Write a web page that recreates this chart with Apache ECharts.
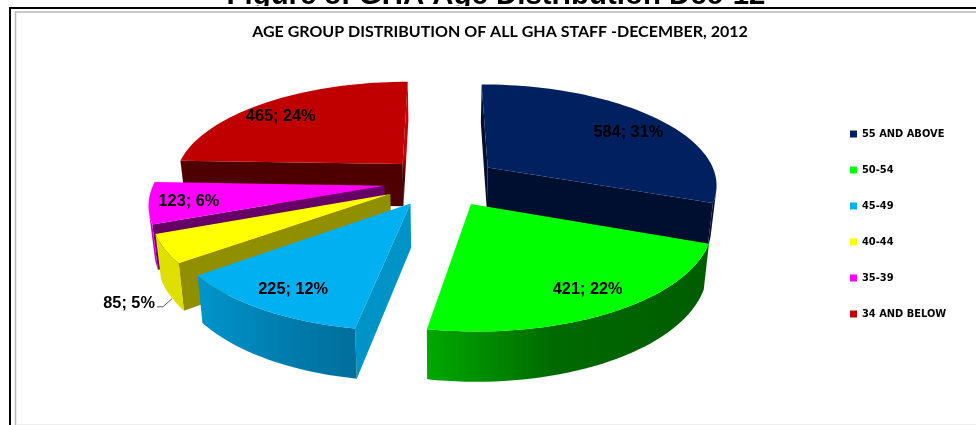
<!DOCTYPE html>
<html><head><meta charset="utf-8">
<style>html,body{margin:0;padding:0;background:#fff}#c{width:976px;height:425px}</style>
<script src="https://cdn.jsdelivr.net/npm/echarts@6/dist/echarts.min.js"></script>
</head><body><div id="c"></div>
<script>
const categories = ['55 AND ABOVE','50-54','45-49','40-44','35-39','34 AND BELOW'];
const staff = [584,421,225,85,123,465];
const percentLabels = [31,22,12,5,6,24];
const topColors = ['#002060','#00ff00','#00b0f0','#ffff00','#ff00ff','#c00000'];
const pageTitle = 'Figure 8: GHA Age Distribution Dec-12';
const chartTitle = 'AGE GROUP DISTRIBUTION OF ALL GHA STAFF -DECEMBER, 2012';

// projection of the exploded 3D disk
const P = {cx:441.5, cy:181.5, A:230, B:100, k:0.155, e:0.25, h:44, m:0.02};
const total = staff.reduce((a,b)=>a+b,0);
const rad = d=>d*Math.PI/180;
let acc = 0;
const spans = staff.map(v=>{const s=acc/total*360; acc+=v; return [s,acc/total*360];});

function proj(X,Y,bottom){
  const w = (1+P.k*Y)*(bottom?1+P.m:1);
  const y0 = -P.B*Y + (bottom?P.h:0);
  return [P.cx+P.A*X/w, P.cy+y0/w];
}
function disk(i,r,deg){
  const mid = rad((spans[i][0]+spans[i][1])/2);
  return [P.e*Math.sin(mid)+r*Math.sin(rad(deg)), P.e*Math.cos(mid)+r*Math.cos(rad(deg))];
}
const area = pts=>{let s=0;pts.forEach((p,j)=>{const q=pts[(j+1)%pts.length];s+=p[0]*q[1]-q[0]*p[1];});return s/2;};

// side shading per slice: cut-face at the start angle, cut-face at the end angle, outer wall
const grad = stops=>({type:'linear',x:0,y:0,x2:1,y2:0,colorStops:stops.map(c=>({offset:c[0],color:c[1]}))});
const vgrad = stops=>({type:'linear',x:0,y:0,x2:0,y2:1,colorStops:stops.map(c=>({offset:c[0],color:c[1]}))});
const sides = [
 {start:'#000f30', end:'#000f30', wall:'#000f30'},
 {start:'#006000', end:'#00a000', wall:grad([[0,'#00a800'],[0.45,'#006a00'],[1,'#005c00']])},
 {start:'#0093c8', end:'#0093c8', wall:grad([[0,'#0095cc'],[0.55,'#007cad'],[1,'#006f9b'] ])},
 {start:'#8f8f00', end:'#8f8f00', wall:'#e0e000'},
 {start:'#660066', end:'#660066', wall:'#cc00cc'},
 {start:'#4e0000', end:vgrad([[0,'#d40000'],[0.62,'#c00000'],[0.72,'#500000'],[1,'#400000']]), wall:'#800000'}
];
const paintOrder = [5,0,4,3,2,1];
const labelNudge = [[18,2],[19,11],[-15,13],[0,0],[-27,3],[-21,-2]];

function sliceItem(i){
  const [a0,a1] = spans[i];
  const apex = disk(i,0,0);
  const n = Math.max(8,Math.round((a1-a0)/2));
  const arc = [];
  for(let j=0;j<=n;j++){ arc.push(disk(i,1,a0+(a1-a0)*j/n)); }
  const children = [];
  const poly = (pts,fill,z2)=>children.push({type:'polygon',shape:{points:pts},style:{fill:fill,stroke:null},z2:z2,silent:true});
  const faces = [[apex,arc[0],sides[i].start],[arc[n],apex,sides[i].end]];
  // a flat face is shown only if it turns towards the viewer
  faces.forEach(f=>{
    const q=[proj(f[0][0],f[0][1]),proj(f[1][0],f[1][1]),proj(f[1][0],f[1][1],true),proj(f[0][0],f[0][1],true)];
    if(area(q)<0) poly(q,f[2],2);
  });
  // outer wall, only the segments that look at the viewer
  const vis=[];
  for(let j=0;j<n;j++){
    const t=proj(arc[j][0],arc[j][1]),u=proj(arc[j+1][0],arc[j+1][1]),
          d=proj(arc[j+1][0],arc[j+1][1],true),b=proj(arc[j][0],arc[j][1],true);
    if(area([t,u,d,b])<0) vis.push(j);
  }
  if(vis.length){
    const tops=[],bots=[];
    for(let j=vis[0];j<=vis[vis.length-1]+1;j++){
      tops.push(proj(arc[j][0],arc[j][1])); bots.push(proj(arc[j][0],arc[j][1],true));
    }
    poly(tops.concat(bots.reverse()),sides[i].wall,3);
  }
  const top=[proj(apex[0],apex[1])].concat(arc.map(p=>proj(p[0],p[1])));
  poly(top,topColors[i],4);
  return {type:'group',children:children};
}

const labelFont = 'bold 16.3px "Liberation Sans", Arial, sans-serif';
const labelSeries = {
  type:'custom', name:'labels', coordinateSystem:'none', silent:true, z:20,
  data: staff.map((v,i)=>[v,percentLabels[i]]),
  renderItem(params,api){
    const i=params.dataIndex, mid=(spans[i][0]+spans[i][1])/2;
    const txt=staff[i]+'; '+percentLabels[i]+'%';
    const outside = i===3;
    if(outside){
      const edge=disk(i,1,mid-6), a=proj(edge[0],edge[1],true);
      const lx=a[0]-21, ly=a[1]-3;
      return {type:'group',children:[
        {type:'text',style:{text:txt,x:lx-4,y:ly,font:labelFont,fill:'#000',align:'right',verticalAlign:'middle'}},
        {type:'polyline',shape:{points:[[lx-2,ly+3],[lx+4,ly+3],[lx+13,ly-5]]},style:{stroke:'#333',lineWidth:0.8,fill:null}}
      ]};
    }
    const p=disk(i,0.72,mid), s=proj(p[0],p[1]), nudge=labelNudge[i];
    return {type:'text',style:{text:txt,x:s[0]+nudge[0],y:s[1]+nudge[1],font:labelFont,fill:'#000',align:'center',verticalAlign:'middle'}};
  }
};

const series = categories.map((name,i)=>({
  type:'custom', name:name, coordinateSystem:'none', silent:true,
  z:2+paintOrder.indexOf(i),
  itemStyle:{color:topColors[i]},
  data:[staff[i]],
  renderItem(){ return sliceItem(i); }
}));
series.push(labelSeries);

const chart = echarts.init(document.getElementById('c'),null,{renderer:'canvas',width:976,height:425});
chart.setOption({
  animation:false,
  backgroundColor:'#fff',
  title:{text:chartTitle,left:495,top:19,textAlign:'center',
    textStyle:{fontFamily:'Lato,sans-serif',fontWeight:'bold',fontSize:16,color:'#000'}},
  legend:{data:categories,orient:'vertical',left:845,top:124,itemWidth:7,itemHeight:7,itemGap:26,icon:'rect',selectedMode:false,
    textStyle:{fontFamily:'"DejaVu Sans",sans-serif',fontWeight:'bold',fontSize:9.9,color:'#000'}},
  series:series,
  graphic:[
    {type:'text',z:0,silent:true,x:496,y:10,style:{text:pageTitle,font:'bold 29.4px "Liberation Sans",Arial,sans-serif',fill:'#000',align:'center',verticalAlign:'bottom'}},
    {type:'rect',z:1,silent:true,shape:{x:0,y:6,width:976,height:12},style:{fill:'#fff'}},
    {type:'polyline',z:1,silent:true,shape:{points:[[10,425],[10,8],[976,8]]},style:{stroke:'#000',lineWidth:2,fill:null}},
    {type:'polyline',z:1,silent:true,shape:{points:[[15.5,425],[15.5,12],[976,12]]},style:{stroke:'#b8b8b8',lineWidth:1.5,fill:null}},
    {type:'line',z:1,silent:true,shape:{x1:16,y1:424.5,x2:976,y2:424.5},style:{stroke:'#eeeeee',lineWidth:1}}
  ]
});
</script></body></html>
